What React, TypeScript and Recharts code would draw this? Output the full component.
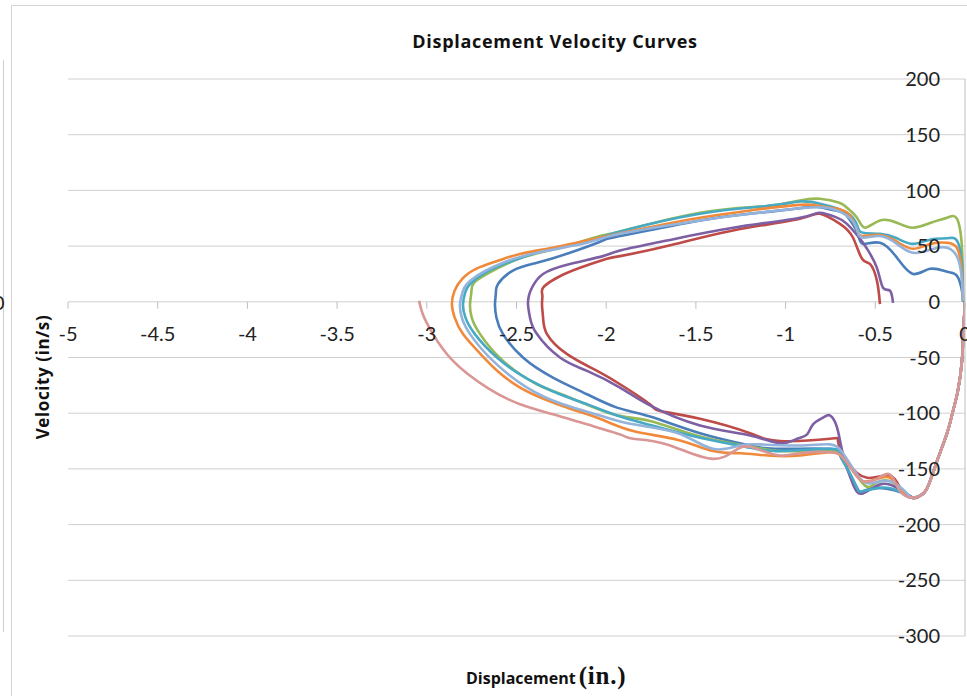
import React from "react";
import { LineChart, Line, XAxis, YAxis, CartesianGrid } from "recharts";

type Pt = [number, number];

// displacement (in.), velocity (in/s)
const startLeg: Pt[] = [
  [0, 0], [-0.008, -25], [-0.017, -53], [-0.04, -80], [-0.07, -100], [-0.1, -118],
  [-0.156, -143], [-0.21, -167], [-0.25, -174], [-0.29, -176],
];

const blueRun: Pt[] = [
  ...startLeg, [-0.323, -173], [-0.474, -167], [-0.569, -170], [-0.602, -167], [-0.658, -149],
  [-0.697, -137], [-0.753, -132], [-1.031, -132], [-1.198, -129], [-1.477, -118], [-1.756, -103],
  [-1.94, -95], [-2.107, -83], [-2.297, -68], [-2.464, -50], [-2.575, -29], [-2.612, -14],
  [-2.62, -2], [-2.615, 8], [-2.603, 16], [-2.52, 28], [-2.386, 35], [-2.202, 44], [-2.018, 55],
  [-1.923, 59], [-1.477, 73], [-1.2, 79], [-0.92, 84], [-0.808, 85], [-0.7, 81], [-0.658, 77],
  [-0.6, 62], [-0.569, 52], [-0.474, 53], [-0.379, 39.5], [-0.29, 25], [-0.195, 29.6],
  [-0.1, 27], [-0.045, 23.4], [-0.017, 10], [-0.011, 0],
];

const redRun: Pt[] = [
  ...startLeg, [-0.35, -170], [-0.418, -156], [-0.546, -158], [-0.658, -143], [-0.708, -125],
  [-0.753, -123], [-1.031, -125], [-1.198, -118], [-1.477, -105], [-1.7, -98], [-1.756, -92],
  [-1.923, -74], [-2.051, -62], [-2.218, -47], [-2.33, -29], [-2.352, -14], [-2.358, -2],
  [-2.356, 6], [-2.352, 12.6], [-2.274, 21.6], [-2.146, 30.5], [-1.996, 38.6], [-1.923, 41],
  [-1.661, 50], [-1.293, 64], [-0.92, 74.6], [-0.808, 79], [-0.697, 70], [-0.624, 57.5],
  [-0.574, 38.6], [-0.53, 34], [-0.491, 19], [-0.474, -2],
];

const greenRun: Pt[] = [
  ...startLeg, [-0.35, -170], [-0.418, -161], [-0.5, -163], [-0.557, -165], [-0.641, -147],
  [-0.697, -136], [-0.808, -134], [-1.031, -134], [-1.198, -130], [-1.477, -121], [-1.756, -107],
  [-1.962, -101], [-2.202, -86], [-2.386, -74], [-2.575, -53], [-2.703, -29], [-2.75, -14],
  [-2.759, -2], [-2.752, 8], [-2.742, 16], [-2.664, 25], [-2.48, 39], [-2.258, 48.5],
  [-2.035, 59], [-1.923, 63], [-1.477, 80], [-1.104, 86], [-0.92, 91], [-0.808, 92.5],
  [-0.7, 89], [-0.658, 84.5], [-0.602, 75.5], [-0.557, 66.5], [-0.474, 73], [-0.38, 71],
  [-0.29, 66.5], [-0.19, 71], [-0.1, 75.5], [-0.045, 74.6], [-0.017, 48.5], [-0.011, 1],
];

const purpleRun: Pt[] = [
  ...startLeg, [-0.379, -167], [-0.474, -164], [-0.569, -172], [-0.624, -164], [-0.68, -137],
  [-0.713, -113], [-0.753, -102], [-0.791, -104], [-0.847, -110], [-0.88, -119], [-0.936, -123],
  [-1.031, -127], [-1.198, -120], [-1.477, -111], [-1.756, -93], [-1.923, -77], [-2.107, -62],
  [-2.258, -50], [-2.386, -29], [-2.425, -14], [-2.436, -2], [-2.43, 6], [-2.414, 12.6],
  [-2.352, 25], [-2.202, 34], [-2.018, 41], [-1.923, 46], [-1.661, 55], [-1.293, 66.5],
  [-0.92, 75.5], [-0.808, 80], [-0.72, 76], [-0.658, 70], [-0.585, 56.6], [-0.546, 47.6],
  [-0.491, 30.5], [-0.457, 12.6], [-0.418, 10], [-0.401, -1],
];

const aquaRun: Pt[] = [
  ...startLeg, [-0.32, -174], [-0.4, -168], [-0.474, -167], [-0.569, -170], [-0.602, -167],
  [-0.658, -149], [-0.697, -137], [-0.753, -132], [-1.031, -134], [-1.198, -131], [-1.477, -122],
  [-1.756, -110.5], [-1.94, -102], [-2.09, -93], [-2.258, -83], [-2.441, -69], [-2.609, -50],
  [-2.732, -29], [-2.785, -14], [-2.798, -2], [-2.785, 9], [-2.759, 16], [-2.676, 26],
  [-2.536, 36], [-2.341, 46], [-2.09, 55], [-1.923, 63], [-1.477, 79], [-1.104, 86], [-0.92, 90],
  [-0.808, 88], [-0.658, 80], [-0.6, 68], [-0.569, 62], [-0.474, 61], [-0.38, 57], [-0.29, 52],
  [-0.19, 56], [-0.1, 57], [-0.045, 55], [-0.017, 34], [-0.011, 1],
];

const orangeRun: Pt[] = [
  ...startLeg, [-0.362, -168], [-0.418, -158], [-0.491, -159], [-0.569, -161], [-0.624, -152],
  [-0.68, -140], [-0.753, -135], [-0.92, -138], [-1.1, -138], [-1.25, -136], [-1.405, -134],
  [-1.6, -124], [-1.85, -116], [-2.035, -105], [-2.2, -96], [-2.35, -87], [-2.48, -77],
  [-2.6, -63], [-2.7, -47], [-2.798, -29], [-2.845, -14], [-2.86, -2], [-2.845, 10],
  [-2.8, 21], [-2.72, 30], [-2.6, 37], [-2.48, 43], [-2.297, 48.5], [-2.107, 55], [-1.756, 67],
  [-1.477, 75.5], [-1.198, 82], [-0.92, 87], [-0.808, 86], [-0.7, 83], [-0.64, 77], [-0.6, 64],
  [-0.569, 59], [-0.474, 60], [-0.38, 54], [-0.29, 47.6], [-0.19, 52], [-0.1, 53],
  [-0.045, 48.5], [-0.02, 30], [-0.011, 1],
];

const lightBlueRun: Pt[] = [
  ...startLeg, [-0.323, -172], [-0.418, -161], [-0.53, -163], [-0.602, -155], [-0.68, -136],
  [-0.753, -128], [-0.92, -129], [-1.143, -128], [-1.254, -129], [-1.405, -132], [-1.6, -118],
  [-1.85, -110], [-2.035, -102], [-2.241, -92], [-2.441, -77], [-2.631, -53], [-2.759, -29],
  [-2.805, -14], [-2.815, -2], [-2.8, 9], [-2.776, 16], [-2.703, 25], [-2.575, 35], [-2.386, 44],
  [-2.107, 53], [-1.923, 61], [-1.477, 73], [-1.2, 79], [-0.92, 84], [-0.753, 84], [-0.641, 75],
  [-0.6, 64], [-0.569, 57.5], [-0.474, 59], [-0.38, 52], [-0.29, 44], [-0.19, 47], [-0.1, 48.5],
  [-0.039, 38.6], [-0.017, 19], [-0.011, 1],
];

const pinkRun: Pt[] = [
  ...startLeg, [-0.362, -170], [-0.418, -155], [-0.491, -159], [-0.569, -161], [-0.624, -152],
  [-0.68, -140], [-0.753, -135], [-0.92, -136], [-1.031, -138], [-1.143, -133], [-1.254, -131],
  [-1.405, -141], [-1.661, -128], [-1.85, -123], [-1.923, -119], [-2.107, -110], [-2.297, -101],
  [-2.48, -92], [-2.664, -77], [-2.854, -53], [-2.965, -29], [-3.02, -12], [-3.043, 1],
];

const xTicks = [-5, -4.5, -4, -3.5, -3, -2.5, -2, -1.5, -1, -0.5, 0];
const yTicks = [-300, -250, -200, -150, -100, -50, 0, 50, 100, 150, 200];

const series = [
  { name: "blue", color: "#4A7EBB", pts: blueRun },
  { name: "red", color: "#BE4B48", pts: redRun },
  { name: "green", color: "#98B954", pts: greenRun },
  { name: "purple", color: "#7D5FA3", pts: purpleRun },
  { name: "aqua", color: "#46AAC5", pts: aquaRun },
  { name: "orange", color: "#F08A3A", pts: orangeRun },
  { name: "lightblue", color: "#93B3DB", pts: lightBlueRun },
  { name: "pink", color: "#DA9694", pts: pinkRun },
];

const PLOT_TOP = 79;
const PLOT_H = 557;
const FONT = "Lato, 'Open Sans', sans-serif";
const LABEL_FONT = "'Open Sans', Lato, sans-serif";

function XTick(props: any) {
  const { x, y, payload } = props;
  // the axis is laid out at the bottom of the plot; draw it at velocity 0 instead
  const y0 = y - (PLOT_H * (0 - yTicks[0])) / (yTicks[yTicks.length - 1] - yTicks[0]);
  return (
    <g>
      <line x1={x} x2={x} y1={y0} y2={y0 + 7} stroke="#bfbfbf" />
      <text x={x} y={y0 + 39} textAnchor="middle" fontSize={20} fill="#222" fontFamily={FONT}>
        {payload.value}
      </text>
    </g>
  );
}

export default function App() {
  return (
    <div
      style={{
        position: "absolute", left: 0, top: 0, width: 967, height: 696,
        overflow: "hidden", background: "#fff", fontFamily: LABEL_FONT,
      }}
    >
      {/* edge of the neighbouring chart and the frame */}
      <div style={{ position: "absolute", left: 0, top: 60, width: 3, height: 572, borderRight: "1px solid #cfcfcf" }} />
      <div style={{ position: "absolute", left: -7, top: 290, fontSize: 20, color: "#222", fontFamily: FONT }}>0</div>
      <div style={{ position: "absolute", left: 11, top: 5, width: 970, height: 700, borderLeft: "1px solid #d4d4d4", borderTop: "1px solid #d4d4d4" }} />

      <div style={{ position: "absolute", left: 0, top: 29, width: 1110, textAlign: "center", fontWeight: 700, fontSize: 18, color: "#111", letterSpacing: 0.7 }}>
        Displacement Velocity Curves
      </div>
      <div
        style={{
          position: "absolute", left: 42, top: 377, transform: "translate(-50%, -50%) rotate(-90deg)",
          whiteSpace: "nowrap", fontWeight: 700, fontSize: 17, color: "#111", letterSpacing: 0.6,
        }}
      >
        Velocity (in/s)
      </div>
      <div style={{ position: "absolute", left: 466, top: 662, whiteSpace: "nowrap", color: "#111" }}>
        <span style={{ fontWeight: 700, fontSize: 16 }}>Displacement</span>
        <span style={{ fontFamily: "'Liberation Serif', serif", fontWeight: 700, fontSize: 25, marginLeft: 3, letterSpacing: 0.8 }}>(in.)</span>
      </div>

      <div style={{ position: "absolute", left: 0, top: 0 }}>
        <LineChart width={1000} height={696} margin={{ top: PLOT_TOP, right: 35, bottom: 696 - PLOT_TOP - PLOT_H - 30, left: 68 }}>
          <CartesianGrid vertical={false} stroke="#d0d0d0" />
          <XAxis
            dataKey="x"
            type="number"
            domain={[-5, 0]}
            ticks={xTicks}
            allowDataOverflow
            height={30}
            axisLine={false}
            tickLine={false}
            tickSize={0}
            tickMargin={0}
            tick={<XTick />}
            interval={0}
          />
          <YAxis
            type="number"
            orientation="right"
            mirror
            width={30}
            domain={[-300, 200]}
            ticks={yTicks}
            allowDataOverflow
            axisLine={{ stroke: "#bfbfbf" }}
            tickLine={false}
            tickSize={0}
            tickMargin={25}
            interval={0}
            tick={{ fontSize: 20, fill: "#222", fontFamily: FONT }}
          />
          {series.map((s) => (
            <Line
              key={s.name}
              data={s.pts.map(([x, v]) => ({ x, v }))}
              dataKey="v"
              type="natural"
              stroke={s.color}
              strokeWidth={2.6}
              dot={false}
              isAnimationActive={false}
            />
          ))}
        </LineChart>
      </div>
    </div>
  );
}
